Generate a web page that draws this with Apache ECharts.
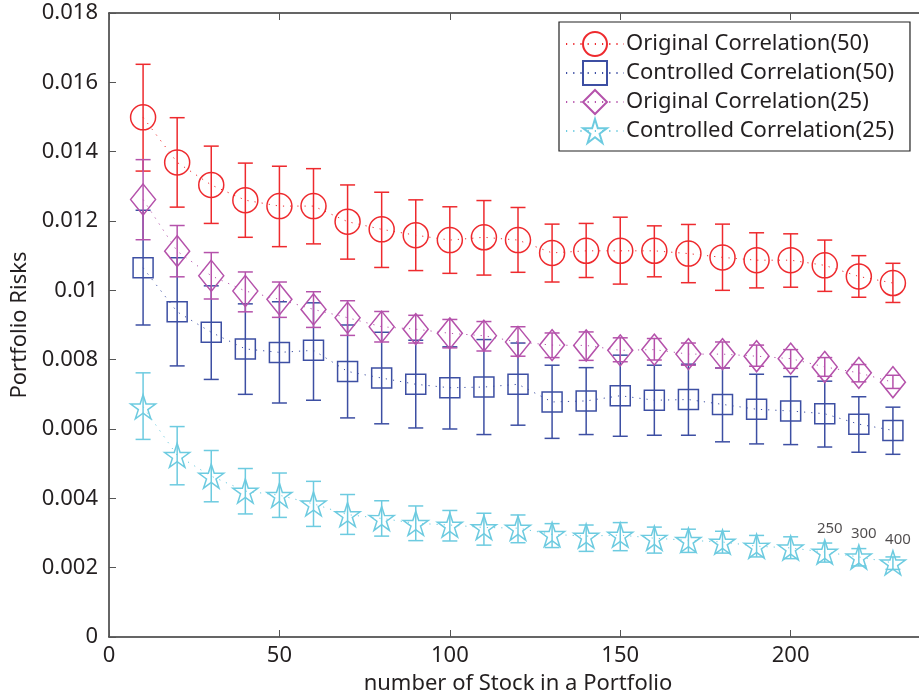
<!DOCTYPE html>
<html>
<head>
<meta charset="utf-8">
<script src="https://cdn.jsdelivr.net/npm/echarts@6/dist/echarts.min.js"></script>
<style>
  html, body { margin: 0; padding: 0; background: #fff; }
  #container { width: 919px; height: 700px; }
</style>
</head>
<body>
<div id="container"></div>
<script>
// number of stocks in the portfolio
var stockCounts = [10, 20, 30, 40, 50, 60, 70, 80, 90, 100, 110, 120, 130, 140, 150, 160, 170, 180, 190, 200, 210, 220, 230];

// Original Correlation(50)
var orig50Mean = [0.01499, 0.01369, 0.01304, 0.01260, 0.01243, 0.01243, 0.01198, 0.01176, 0.01159, 0.01145, 0.01153, 0.01145, 0.01108, 0.01114, 0.01114, 0.01114, 0.01106, 0.01095, 0.01087, 0.01087, 0.01072, 0.01040, 0.01021];
var orig50Hi = [0.01652, 0.01498, 0.01416, 0.01367, 0.01358, 0.01351, 0.01304, 0.01283, 0.01261, 0.01241, 0.01259, 0.01239, 0.01191, 0.01193, 0.01211, 0.01186, 0.01190, 0.01191, 0.01166, 0.01163, 0.01145, 0.01100, 0.01078];
var orig50Lo = [0.01344, 0.01240, 0.01193, 0.01153, 0.01126, 0.01134, 0.01090, 0.01066, 0.01057, 0.01049, 0.01044, 0.01052, 0.01024, 0.01037, 0.01018, 0.01039, 0.01022, 0.01000, 0.01007, 0.01009, 0.00997, 0.00980, 0.00965];

// Controlled Correlation(50)
var ctrl50Mean = [0.01065, 0.00938, 0.00879, 0.00831, 0.00821, 0.00827, 0.00766, 0.00747, 0.00729, 0.00719, 0.00721, 0.00729, 0.00678, 0.00681, 0.00696, 0.00683, 0.00685, 0.00671, 0.00657, 0.00652, 0.00644, 0.00614, 0.00596];
var ctrl50Hi = [0.01231, 0.01094, 0.01013, 0.00961, 0.00967, 0.00964, 0.00900, 0.00879, 0.00856, 0.00837, 0.00858, 0.00848, 0.00784, 0.00777, 0.00813, 0.00784, 0.00787, 0.00776, 0.00758, 0.00751, 0.00738, 0.00693, 0.00663];
var ctrl50Lo = [0.00900, 0.00782, 0.00743, 0.00700, 0.00675, 0.00683, 0.00632, 0.00615, 0.00603, 0.00600, 0.00584, 0.00611, 0.00573, 0.00584, 0.00579, 0.00582, 0.00582, 0.00563, 0.00557, 0.00555, 0.00548, 0.00533, 0.00527];

// Original Correlation(25)
var orig25Mean = [0.01262, 0.01113, 0.01042, 0.00998, 0.00974, 0.00945, 0.00921, 0.00895, 0.00888, 0.00876, 0.00869, 0.00851, 0.00842, 0.00841, 0.00827, 0.00829, 0.00816, 0.00816, 0.00810, 0.00803, 0.00779, 0.00762, 0.00735];
var orig25Hi = [0.01377, 0.01187, 0.01109, 0.01053, 0.01024, 0.00996, 0.00970, 0.00939, 0.00928, 0.00916, 0.00910, 0.00895, 0.00877, 0.00880, 0.00863, 0.00861, 0.00848, 0.00851, 0.00842, 0.00829, 0.00806, 0.00786, 0.00755];
var orig25Lo = [0.01146, 0.01039, 0.00975, 0.00938, 0.00922, 0.00893, 0.00870, 0.00851, 0.00848, 0.00834, 0.00825, 0.00810, 0.00806, 0.00798, 0.00794, 0.00799, 0.00784, 0.00776, 0.00781, 0.00775, 0.00752, 0.00736, 0.00717];

// Controlled Correlation(25)
var ctrl25Mean = [0.00664, 0.00524, 0.00464, 0.00421, 0.00409, 0.00384, 0.00353, 0.00342, 0.00328, 0.00323, 0.00316, 0.00314, 0.00296, 0.00291, 0.00294, 0.00285, 0.00279, 0.00274, 0.00262, 0.00257, 0.00245, 0.00231, 0.00214];
var ctrl25Hi = [0.00762, 0.00607, 0.00538, 0.00486, 0.00473, 0.00449, 0.00411, 0.00393, 0.00378, 0.00365, 0.00357, 0.00352, 0.00327, 0.00323, 0.00330, 0.00317, 0.00311, 0.00305, 0.00293, 0.00289, 0.00271, 0.00255, 0.00231];
var ctrl25Lo = [0.00570, 0.00439, 0.00390, 0.00355, 0.00345, 0.00319, 0.00296, 0.00291, 0.00278, 0.00277, 0.00265, 0.00272, 0.00258, 0.00247, 0.00249, 0.00242, 0.00244, 0.00242, 0.00231, 0.00226, 0.00216, 0.00205, 0.00195];

// small notes above the last stars
var noteIndex = [20, 21, 22];
var noteText = ['250', '300', '400'];

var seriesNames = ['Original Correlation(50)', 'Controlled Correlation(50)', 'Original Correlation(25)', 'Controlled Correlation(25)'];

var FONT = 'Noto Sans';
var TXT = '#231f20';

function starPath() {
    var pts = [];
    for (var k = 0; k < 10; k++) {
        var r = (k % 2 === 0) ? 50 : 19;
        var a = -Math.PI / 2 + k * Math.PI / 5;
        pts.push((50 + r * Math.cos(a)).toFixed(2) + ',' + (50 + r * Math.sin(a)).toFixed(2));
    }
    return 'path://M' + pts.join('L') + 'Z';
}

function pairs(ys) {
    return stockCounts.map(function (x, i) { return [x, ys[i]]; });
}

function barData(lo, hi) {
    return stockCounts.map(function (x, i) { return [x, lo[i], hi[i]]; });
}

// vertical error bars with caps, no name so the legend skips them
function errorBars(lo, hi, color) {
    return {
        type: 'custom',
        silent: true,
        data: barData(lo, hi),
        renderItem: function (params, api) {
            var x = api.value(0);
            var top = api.coord([x, api.value(2)]);
            var bot = api.coord([x, api.value(1)]);
            var w = 7.5;
            var st = { stroke: color, lineWidth: 1.5 };
            return {
                type: 'group',
                children: [
                    { type: 'line', shape: { x1: top[0], y1: top[1], x2: bot[0], y2: bot[1] }, style: st },
                    { type: 'line', shape: { x1: top[0] - w, y1: top[1], x2: top[0] + w, y2: top[1] }, style: st },
                    { type: 'line', shape: { x1: bot[0] - w, y1: bot[1], x2: bot[0] + w, y2: bot[1] }, style: st }
                ]
            };
        },
        z: 2
    };
}

function meanLine(name, ys, color, symbol, size) {
    return {
        name: name,
        type: 'line',
        data: pairs(ys),
        symbol: symbol,
        symbolSize: size,
        showAllSymbol: true,
        lineStyle: { color: color, width: 1, type: [1.2, 6] },
        itemStyle: { color: 'rgba(255,255,255,0)', borderColor: color, borderWidth: 1.5 },
        emphasis: { disabled: true },
        z: 3
    };
}

var colors = ['#ee2a2e', '#3d4fa3', '#b552ab', '#6dcbe0'];

var dom = document.getElementById('container');
var myChart = echarts.init(dom);

var noteData = noteIndex.map(function (idx, k) {
    return { value: [stockCounts[idx], ctrl25Mean[idx]], label: { formatter: noteText[k] } };
});

var option = {
    backgroundColor: '#fff',
    animation: false,
    textStyle: { fontFamily: FONT },
    grid: { left: 109, right: -8, top: 13, bottom: 63, containLabel: false, outerBoundsMode: 'none' },
    legend: {
        left: 559,
        top: 22,
        orient: 'vertical',
        data: seriesNames,
        backgroundColor: '#fff',
        borderColor: '#222',
        borderWidth: 1.2,
        borderRadius: 0,
        padding: [9, 16, 7, 6],
        itemGap: 3,
        itemWidth: 58,
        itemHeight: 30,
        textStyle: { fontFamily: FONT, fontSize: 22, color: TXT, padding: [0, 0, 0, -3] }
    },
    xAxis: [{
        type: 'value',
        min: 0,
        max: 240,
        interval: 50,
        name: 'number of Stock in a Portfolio',
        nameLocation: 'middle',
        nameGap: 36,
        nameTextStyle: { fontFamily: FONT, fontSize: 22, color: TXT },
        axisLine: { onZero: false, lineStyle: { color: '#333', width: 1.5 } },
        axisTick: { inside: true, length: 7, lineStyle: { color: '#555' } },
        axisLabel: { fontFamily: FONT, fontSize: 22, color: TXT, margin: 8, showMaxLabel: false },
        splitLine: { show: false }
    }, {
        type: 'value',
        position: 'top',
        min: 0,
        max: 240,
        interval: 50,
        axisLine: { onZero: false, lineStyle: { color: '#333', width: 1.5 } },
        axisTick: { inside: true, length: 7, lineStyle: { color: '#555' } },
        axisLabel: { show: false },
        splitLine: { show: false }
    }],
    yAxis: [{
        type: 'value',
        min: 0,
        max: 0.018,
        interval: 0.002,
        name: 'Portfolio Risks',
        nameLocation: 'middle',
        nameGap: 78,
        nameTextStyle: { fontFamily: FONT, fontSize: 22, color: TXT },
        axisLine: { show: true, onZero: false, lineStyle: { color: '#333', width: 1.5 } },
        axisTick: { show: true, inside: true, length: 7, lineStyle: { color: '#555' } },
        axisLabel: { fontFamily: FONT, fontSize: 22, color: TXT, margin: 11 },
        splitLine: { show: false }
    }],
    series: [
        errorBars(orig50Lo, orig50Hi, colors[0]),
        errorBars(ctrl50Lo, ctrl50Hi, colors[1]),
        errorBars(orig25Lo, orig25Hi, colors[2]),
        errorBars(ctrl25Lo, ctrl25Hi, colors[3]),
        meanLine(seriesNames[0], orig50Mean, colors[0], 'circle', 25),
        meanLine(seriesNames[1], ctrl50Mean, colors[1], 'rect', 20),
        meanLine(seriesNames[2], orig25Mean, colors[2], 'diamond', [25, 31]),
        meanLine(seriesNames[3], ctrl25Mean, colors[3], starPath(), [25, 24]),
        {
            type: 'scatter',
            symbolSize: 0,
            silent: true,
            data: noteData,
            label: {
                show: true,
                position: 'top',
                distance: 16,
                offset: [5, 0],
                fontFamily: FONT,
                fontSize: 15,
                color: TXT
            },
            z: 5
        }
    ]
};

if (option && typeof option === 'object') {
    myChart.setOption(option, true);
}
</script>
</body>
</html>
